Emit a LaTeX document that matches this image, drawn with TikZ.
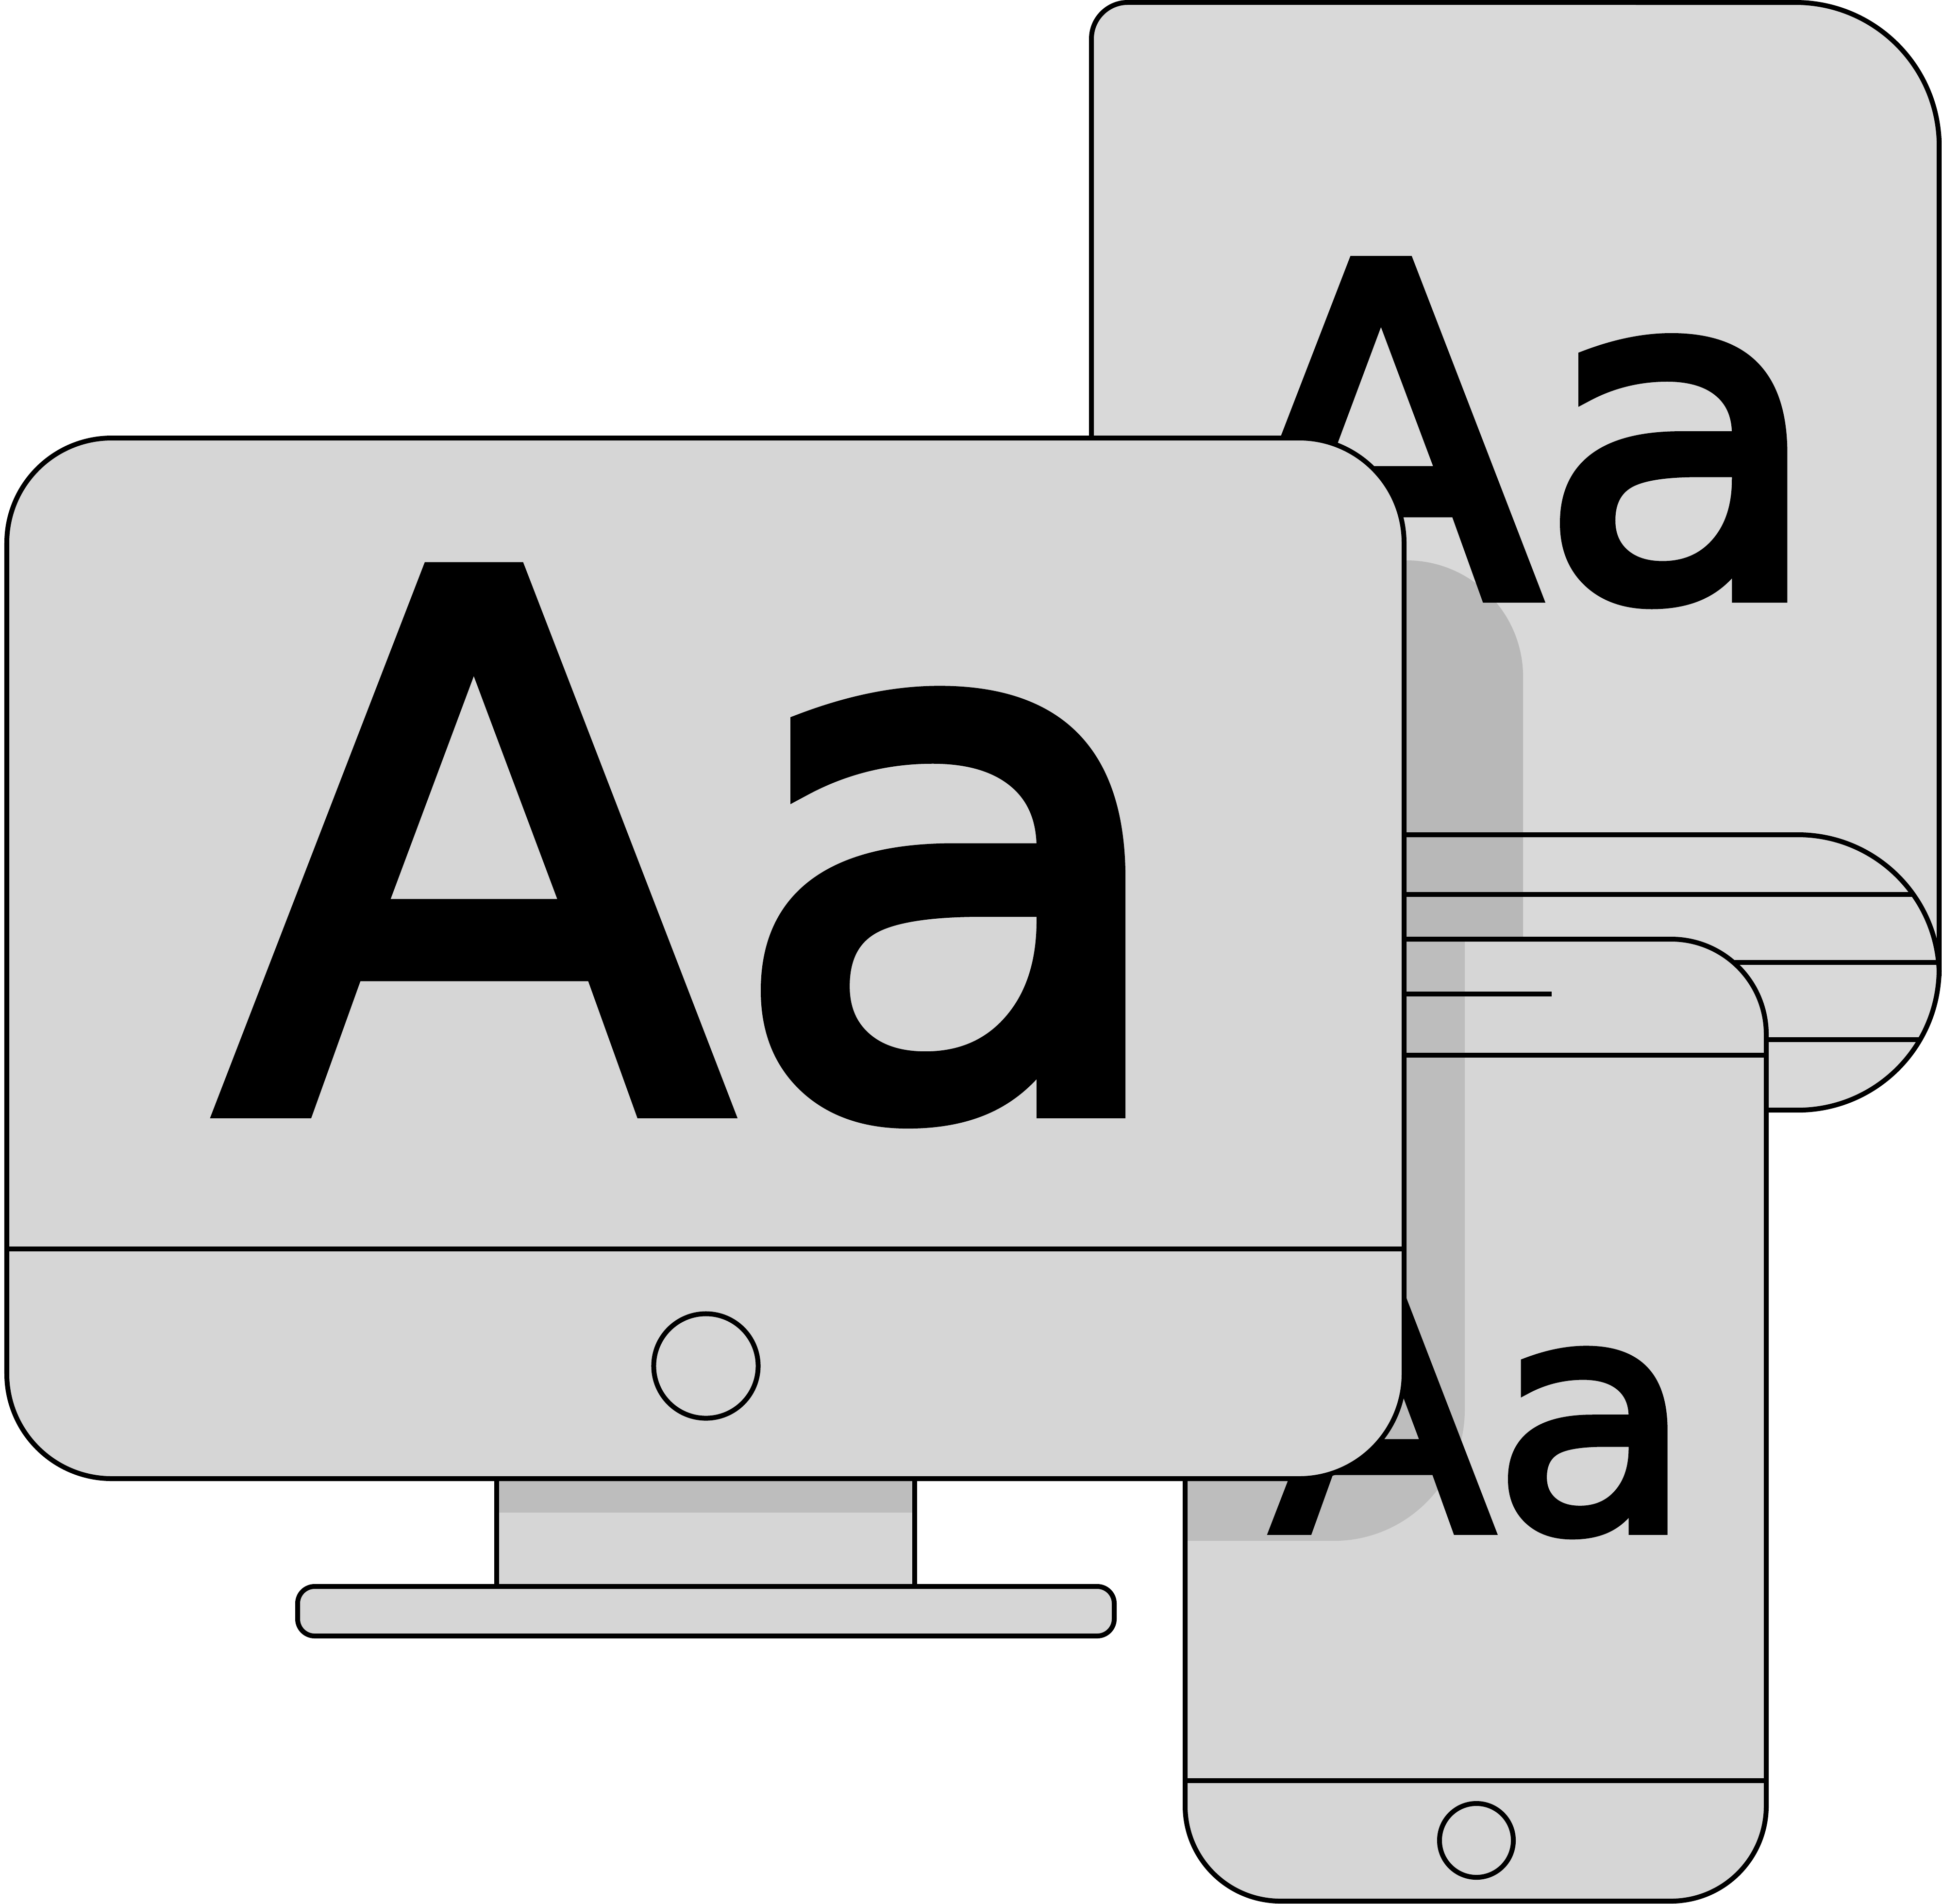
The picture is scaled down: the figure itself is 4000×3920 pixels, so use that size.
\documentclass[tikz,border=0pt]{standalone}
\usepackage{fontspec}
\setmainfont{DejaVu Sans}
\newfontfamily\glyphfont[FakeBold=3]{DejaVu Sans}
\usepackage{xcolor}
\definecolor{tabletgray}{HTML}{D9D9D9}
\definecolor{devicegray}{HTML}{D6D6D6}
\definecolor{tabletshade}{HTML}{B8B8B8}
\definecolor{deviceshade}{HTML}{BDBDBD}
\tikzset{
  % 轮廓线
  outline/.style={draw=black, line width=0.1cm},
  % 机身
  devicebody/.style={outline, fill=devicegray},
  % 阴影
  shade/.style={fill=deviceshade, draw=none},
  % 圆形按钮
  homebtn/.style={circle, devicebody, inner sep=0pt},
  % 字样
  glyphs/.style={anchor=base west, inner sep=0pt, outer sep=0pt, text=black, xscale=1.012, transform shape},
}
\begin{document}
\begin{tikzpicture}[x=0.01cm, y=-0.01cm]
    \useasboundingbox (0,0) rectangle (4000,3920);

    % 平板
    \fill[tabletgray] (2248,1500) -- (2248,80) arc[start angle=180, end angle=90, radius=0.75cm]
        -- (3698,5) arc[start angle=90, end angle=0, radius=2.96cm]
        -- (3994,1995) arc[start angle=0, end angle=-90, radius=2.91cm] -- (2248,2285) -- cycle;
    \fill[tabletshade] (2600,1154) -- (2897,1154) arc[start angle=90, end angle=0, radius=2.40cm]
        -- (3137,2100) -- (2600,2100) -- cycle;
    \draw[outline] (2248,1500) -- (2248,80) arc[start angle=180, end angle=90, radius=0.75cm]
        -- (3698,5) arc[start angle=90, end angle=0, radius=2.96cm]
        -- (3994,1995) arc[start angle=0, end angle=-90, radius=2.91cm] -- (2248,2285) -- cycle;
    \draw[outline] (2600,1719) -- (3703,1719) arc[start angle=90, end angle=0, radius=2.91cm];
    \draw[outline] (2600,1842) -- (3941,1842);
    \draw[outline] (3400,1982) -- (3994,1982);
    \draw[outline] (3400,2141) -- (3953,2141);
    \node[glyphs, font=\fontsize{267.5}{267.5}\glyphfont] (tabletAa) at (2519,1227) {Aa};

    % 手机
    \fill[devicegray, rounded corners=1.96cm] (2441,1934) rectangle (3638,3915);
    \fill[shade] (2500,1939) -- (3017,1939) -- (3017,2903) arc[start angle=0, end angle=-90, radius=2.70cm]
        -- (2441,3173) -- (2441,2500) -- (2500,2500) -- cycle;
    \draw[outline, rounded corners=1.96cm] (2441,1934) rectangle (3638,3915);
    \draw[outline] (2600,2047) -- (3196,2047);
    \draw[outline] (2600,2173) -- (3638,2173);
    \draw[outline] (2441,3667) -- (3638,3667);
    \node[homebtn, minimum size=1.52cm] (phonebtn) at (3041,3790) {};
    \node[glyphs, font=\fontsize{187.7}{187.7}\glyphfont] (phoneAa) at (2619,3151) {Aa};

    % 显示器
    \draw[devicebody] (1023,3000) rectangle (1884,3267);
    \fill[shade] (1028,3045) rectangle (1879,3115);
    \draw[devicebody, rounded corners=0.35cm] (613,3267) rectangle (2295,3369);
    \draw[devicebody, rounded corners=2.16cm] (14,902) rectangle (2892,3045);
    \draw[outline] (14,2572) -- (2892,2572);
    \node[homebtn, minimum size=2.15cm] (monitorbtn) at (1454,2813) {};
    \node[glyphs, font=\fontsize{429}{429}\glyphfont] (monitorAa) at (454,2280) {Aa};
\end{tikzpicture}
\end{document}
